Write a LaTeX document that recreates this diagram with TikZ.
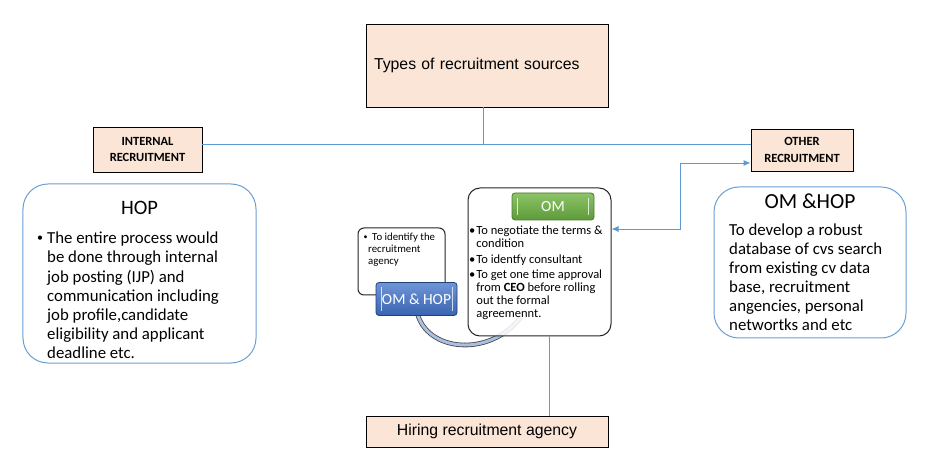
\documentclass[tikz,border=0pt]{standalone}
\usepackage{fontspec}
\setmainfont{Carlito}
\newfontfamily\arialf{Liberation Sans}
\usetikzlibrary{arrows.meta}
\definecolor{peach}{HTML}{FBE5D6}
\definecolor{lineblue}{HTML}{5B9BD5}
\definecolor{boxblue}{HTML}{6A9FD3}
\definecolor{tubeblue}{HTML}{A9C0E2}
\definecolor{greentop}{HTML}{8CC466}
\definecolor{greenbot}{HTML}{5E9A3A}
\definecolor{greenedge}{HTML}{4E7A30}
\definecolor{bluetop}{HTML}{6F95D8}
\definecolor{bluebot}{HTML}{3A64B0}
\definecolor{blueedge}{HTML}{23407A}
\tikzset{
  peachbox/.style={draw=black, fill=peach, line width=0.8bp, inner sep=0pt},
  conn/.style={draw=lineblue, line width=0.9bp},
  roundbox/.style={draw=boxblue, fill=white, line width=1bp, rounded corners=25bp},
  darkbox/.style={draw=black!85, line width=1bp, fill=white},
  barline/.style={line width=1.4bp, draw=white, draw opacity=0.75}
}
\begin{document}
\begin{tikzpicture}[x=1bp,y=-1bp]
\useasboundingbox[fill=white] (0,0) rectangle (929,476);

% peach boxes
\node[peachbox, minimum width=242bp, minimum height=83bp, text width=226bp, align=left, inner xsep=8bp,
  font=\arialf\fontsize{15.8bp}{18bp}\selectfont] (top) at (487,65.5) {Types of recruitment sources};
\node[peachbox, minimum width=109bp, minimum height=45bp, align=center,
  font=\bfseries\fontsize{12.5bp}{16.5bp}\selectfont] (internal) at (147.5,149.5) {INTERNAL\\RECRUITMENT};
\node[peachbox, minimum width=102bp, minimum height=42bp, align=center,
  font=\bfseries\fontsize{12.5bp}{17bp}\selectfont] (other) at (802,150) {OTHER\\RECRUITMENT};
\node[peachbox, minimum width=242bp, minimum height=31bp,
  font=\arialf\fontsize{15.8bp}{18bp}\selectfont] (hiring) at (487,431.5) {Hiring recruitment agency};

% HOP box
\node[roundbox, minimum width=233bp, minimum height=179bp] (hopBox) at (139.5,273.5) {};
\node[font=\fontsize{20.5bp}{24bp}\selectfont, inner sep=0pt] (hopTitle) at (139.5,208) {HOP};
\node[font=\fontsize{12bp}{14bp}\selectfont, inner sep=0pt] (hopBullet) at (40,238.5) {•};
\node[anchor=west, align=left, inner sep=0pt, font=\fontsize{16.8bp}{19.2bp}\selectfont] (hopText) at (47,295.5)
  {The entire process would\\be done through internal\\job posting (IJP) and\\communication including\\job profile,candidate\\eligibility and applicant\\deadline etc.};

% OM &HOP box (right)
\node[roundbox, minimum width=192bp, minimum height=151bp] (rightBox) at (810,262.5) {};
\node[font=\fontsize{21.5bp}{24bp}\selectfont, inner sep=0pt] (rightTitle) at (810,201) {OM \&HOP};
\node[anchor=west, align=left, inner sep=0pt, font=\fontsize{16.8bp}{19bp}\selectfont] (rightText) at (729,277.5)
  {To develop a robust\\database of cvs search\\from existing cv data\\base, recruitment\\angencies, personal\\networtks and etc};

% connectors
\coordinate (j) at (483,144);
\draw[conn] (top.south -| j) -- (j);
\draw[conn] (internal.east |- j) -- (other.west |- j);

% middle group
\node[darkbox, rounded corners=6bp, minimum width=87bp, minimum height=67bp] (agencyBox) at (401.5,261.5) {};
\node[font=\fontsize{8bp}{10bp}\selectfont, inner sep=0pt] (agencyBullet) at (365.5,238) {•};
\node[anchor=west, align=left, inner sep=0pt, font=\fontsize{10.8bp}{12bp}\selectfont] (agencyText) at (368,250)
  {\hspace{4bp}To identify the\\recruitment\\agency};

\draw[draw=gray!55!black, line width=0.8bp, double=tubeblue, double distance=3bp]
  (417,312) .. controls (426,352) and (490,358) .. (521,317);

\node[darkbox, fill opacity=0.85, text opacity=1, rounded corners=12bp, minimum width=143bp, minimum height=148bp] (omBox) at (539.5,262) {};

\draw[conn, {Latex[length=7bp,width=6bp]}-{Latex[length=7bp,width=6bp]}]
  (omBox.east |- 0,229) -- (680,229) -- (680,163) -- (other.west |- 0,163);
\draw[conn] (omBox.south -| 549,0) -- (hiring.north -| 549,0);

\node[draw=blueedge, line width=0.8bp, top color=bluetop, bottom color=bluebot, rounded corners=3bp,
  minimum width=81bp, minimum height=33bp, text=white, font=\fontsize{15.5bp}{18bp}\selectfont] (omhop) at (416.5,299) {OM \& HOP};
\draw[barline] ([xshift=6bp,yshift=-5bp]omhop.north west) -- ([xshift=6bp,yshift=5bp]omhop.south west);
\draw[barline] ([xshift=-5bp,yshift=-5bp]omhop.north east) -- ([xshift=-5bp,yshift=5bp]omhop.south east);

\node[draw=greenedge, line width=0.8bp, top color=greentop, bottom color=greenbot, rounded corners=3bp,
  minimum width=82bp, minimum height=27bp, text=white, font=\fontsize{15.5bp}{18bp}\selectfont] (om) at (553,206.5) {OM};
\draw[barline] ([xshift=6bp,yshift=-5bp]om.north west) -- ([xshift=6bp,yshift=5bp]om.south west);
\draw[barline] ([xshift=-6bp,yshift=-5bp]om.north east) -- ([xshift=-6bp,yshift=5bp]om.south east);

\node[anchor=west, inner sep=0pt, font=\fontsize{12.5bp}{13bp}\selectfont] (omText) at (469,273.5)
  {\begin{tabular}{@{}l@{\hspace{1bp}}l@{}}
   •&To negotiate the terms \&\\
   &condition\\[2.5bp]
   •&To identfy consultant\\[2.5bp]
   •&To get one time approval\\
   &from \textbf{CEO} before rolling\\
   &out the formal\\
   &agreemennt.
   \end{tabular}};
\end{tikzpicture}
\end{document}
